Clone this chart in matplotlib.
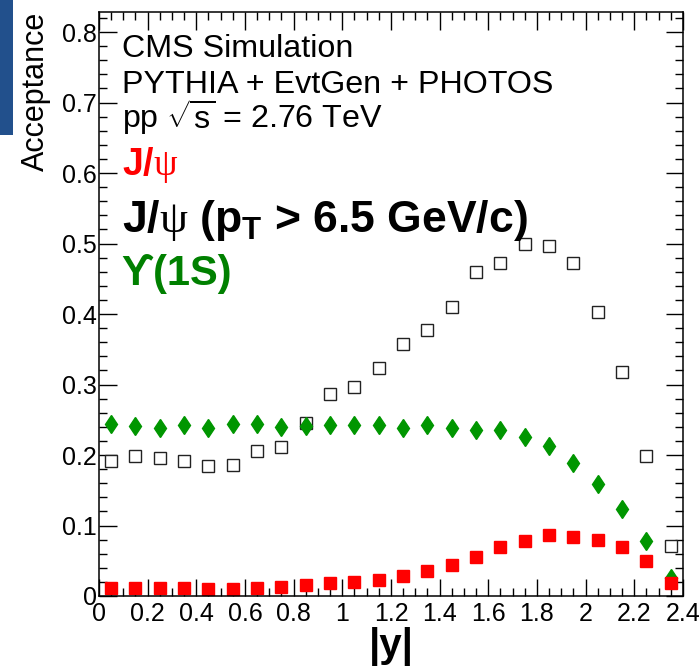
import matplotlib.pyplot as plt
from matplotlib.patches import Rectangle
from matplotlib.ticker import MultipleLocator

plt.rcParams['font.family'] = ['Liberation Sans', 'DejaVu Sans']
plt.rcParams['mathtext.fontset'] = 'custom'
plt.rcParams['mathtext.rm'] = 'Liberation Sans'
plt.rcParams['mathtext.bf'] = 'Liberation Sans:bold'
plt.rcParams['mathtext.sf'] = 'Liberation Serif'

# bin centres in |y|
y_abs = [0.05, 0.15, 0.25, 0.35, 0.45, 0.55, 0.65, 0.75, 0.85, 0.95, 1.05, 1.15,
         1.25, 1.35, 1.45, 1.55, 1.65, 1.75, 1.85, 1.95, 2.05, 2.15, 2.25, 2.35]

# J/psi (all pT)
jpsi = [0.011, 0.011, 0.011, 0.011, 0.010, 0.010, 0.011, 0.013, 0.016, 0.019, 0.020, 0.023,
        0.029, 0.035, 0.044, 0.055, 0.069, 0.078, 0.087, 0.084, 0.080, 0.069, 0.049, 0.019]

# J/psi pT > 6.5 GeV/c
jpsi_pt = [0.192, 0.199, 0.196, 0.191, 0.184, 0.186, 0.206, 0.211, 0.246, 0.287, 0.297, 0.323,
           0.358, 0.378, 0.410, 0.459, 0.472, 0.499, 0.497, 0.472, 0.403, 0.318, 0.198, 0.071]

# Upsilon(1S)
ups = [0.244, 0.241, 0.239, 0.243, 0.239, 0.244, 0.244, 0.240, 0.241, 0.243, 0.242, 0.242,
       0.239, 0.243, 0.238, 0.236, 0.235, 0.225, 0.213, 0.188, 0.159, 0.123, 0.078, 0.026]

fig = plt.figure(figsize=(6.99, 6.72), dpi=100)
ax = fig.add_axes([0.1416, 0.1131, 0.8355, 0.8690])

ax.plot(y_abs, jpsi_pt, 's', ms=9.0, mfc='white', mec='#222222', mew=1.0)
ax.plot(y_abs, ups, 'd', ms=9.6, color='#009600', mec='#009600')
ax.plot(y_abs, jpsi, 's', ms=8.6, color='#ff0000', mec='#ff0000')

ax.set_xlim(0, 2.4)
ax.set_ylim(0, 0.8284)
ax.xaxis.set_minor_locator(MultipleLocator(0.05))
ax.yaxis.set_minor_locator(MultipleLocator(0.02))
ax.set_xticks([0, 0.2, 0.4, 0.6, 0.8, 1, 1.2, 1.4, 1.6, 1.8, 2, 2.2, 2.4])
ax.set_xticklabels(['0', '0.2', '0.4', '0.6', '0.8', '1', '1.2', '1.4', '1.6', '1.8', '2', '2.2', '2.4'])
ax.set_yticks([0, 0.1, 0.2, 0.3, 0.4, 0.5, 0.6, 0.7, 0.8])
ax.set_yticklabels(['0', '0.1', '0.2', '0.3', '0.4', '0.5', '0.6', '0.7', '0.8'])
ax.tick_params(which='both', direction='in', top=True, right=True, width=1.0, labelsize=18)
ax.tick_params(which='major', length=12.6)
ax.tick_params(which='minor', length=6)
ax.tick_params(axis='y', pad=1.5)
ax.tick_params(axis='x', pad=4.5)
for s in ax.spines.values():
    s.set_linewidth(1.1)

ax.set_ylabel('Acceptance', fontsize=22, loc='top')
ax.yaxis.set_label_coords(-0.083, 1.0)
ax.set_xlabel('|y|', fontsize=29, fontweight='bold')
ax.xaxis.set_label_coords(0.5, -0.053)

tx = 0.039
ax.text(tx, 0.923, 'CMS Simulation', transform=ax.transAxes, fontsize=23.2, va='baseline')
ax.text(tx, 0.862, 'PYTHIA + EvtGen + PHOTOS', transform=ax.transAxes, fontsize=23.2, va='baseline')
ax.text(tx, 0.802, r'pp $\sqrt{\mathrm{s}}$ = 2.76 TeV', transform=ax.transAxes, fontsize=23.2,
        va='baseline')
ax.text(tx, 0.721, r'J/$\mathsf{\psi}$', transform=ax.transAxes, fontsize=27, fontweight='bold',
        color='#ff0000', va='baseline')
ax.text(tx, 0.623, r'J/$\mathsf{\psi}$ ($\mathbf{p_{T}}$ > 6.5 GeV/c)', transform=ax.transAxes,
        fontsize=32, fontweight='bold', color='black', va='baseline')
ax.text(tx, 0.5325, 'ϒ(1S)', transform=ax.transAxes, fontsize=30, fontweight='bold',
        color='#008000', va='baseline')

fig.patches.append(Rectangle((0, 1 - 135 / 672), 12.5 / 699, 135 / 672, transform=fig.transFigure,
                             facecolor='#22508c', edgecolor='none'))

fig.savefig('out.png', dpi=100)
